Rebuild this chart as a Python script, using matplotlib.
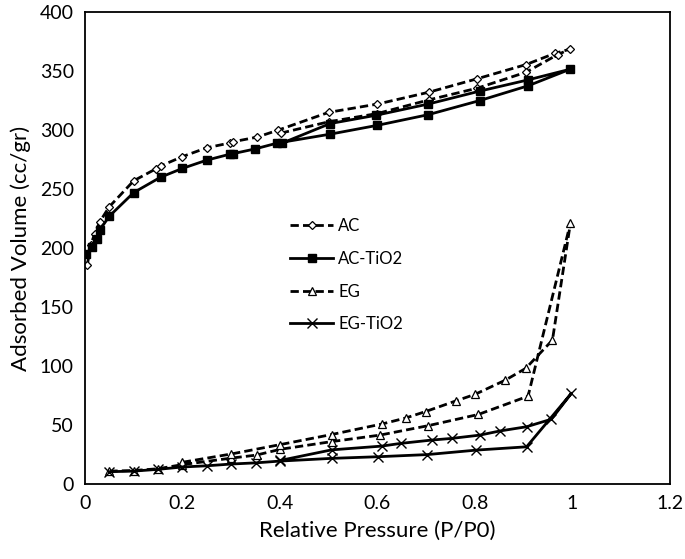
import matplotlib
matplotlib.use("Agg")
import matplotlib.pyplot as plt

# AC: adsorption then desorption
ac_x = [0.005, 0.012, 0.02, 0.03, 0.05, 0.1, 0.145, 0.155, 0.2, 0.25, 0.297, 0.303, 0.353, 0.397,
        0.5, 0.6, 0.705, 0.805, 0.905, 0.964, 0.995,
        0.97, 0.905, 0.805, 0.705, 0.6, 0.5, 0.403]
ac_y = [186, 203, 212, 222, 235, 257, 267, 269.5, 277.5, 285, 289, 290, 294, 300,
        315, 322, 332, 343.5, 355.5, 365, 368.5,
        364, 349, 335.5, 325.5, 314, 307, 297.5]

# AC-TiO2
act_x = [0.003, 0.014, 0.024, 0.03, 0.05, 0.1, 0.155, 0.2, 0.25, 0.297, 0.304, 0.349, 0.395,
         0.503, 0.6, 0.704, 0.81, 0.909, 0.995,
         0.909, 0.81, 0.704, 0.597, 0.503, 0.405]
act_y = [195, 201, 207.5, 215, 227, 247, 260, 267.5, 274.5, 279.5, 280, 284, 289,
         296.5, 304, 313, 325, 337.5, 351.5,
         342.5, 333, 322, 312.5, 305.5, 289]

# EG
eg_x = [0.05, 0.1, 0.15, 0.2, 0.3, 0.352, 0.401, 0.506, 0.605, 0.704, 0.807, 0.909, 0.996,
        0.959, 0.904, 0.862, 0.8, 0.761, 0.699, 0.658, 0.61, 0.506, 0.401, 0.3, 0.2]
eg_y = [11, 11.5, 13, 16.5, 22, 24.6, 29.5, 36, 41.5, 49.5, 59, 74.5, 221.5,
        122, 98, 88, 76, 70.5, 61.5, 56, 51, 42, 33.5, 25.5, 18.5]

# EG-TiO2
egt_x = [0.05, 0.1, 0.15, 0.2, 0.25, 0.3, 0.351, 0.4, 0.506, 0.602, 0.702, 0.803, 0.906, 0.998,
         0.957, 0.906, 0.851, 0.81, 0.752, 0.711, 0.648, 0.609, 0.506, 0.4]
egt_y = [10.5, 11, 12.5, 14.5, 15.5, 17, 18, 19.5, 21.8, 23.2, 25, 28.8, 31.6, 77,
         55, 48.6, 45, 41.5, 38.7, 37.3, 34.5, 32.2, 29, 20]

xticks = [0, 0.2, 0.4, 0.6, 0.8, 1, 1.2]
xtick_labels = ["0", "0.2", "0.4", "0.6", "0.8", "1", "1.2"]
yticks = [0, 50, 100, 150, 200, 250, 300, 350, 400]

plt.rcParams["font.family"] = ["Lato", "DejaVu Sans"]

fig = plt.figure(figsize=(6.85, 5.59), dpi=100)
ax = fig.add_axes([0.124, 0.134, 0.854, 0.8445])

dash = (0, (3.0, 1.5))
ax.plot(ac_x, ac_y, color="black", lw=2, linestyle=dash, marker="D", ms=4,
        mfc="white", mec="black", mew=0.9, label="AC")
ax.plot(act_x, act_y, color="black", lw=2, marker="s", ms=6,
        mfc="black", mec="black", label="AC-TiO2")
ax.plot(eg_x, eg_y, color="black", lw=2, linestyle=dash, marker="^", ms=5.5,
        mfc="white", mec="black", mew=0.9, label="EG")
ax.plot(egt_x, egt_y, color="black", lw=2, marker="x", ms=6.5,
        mec="black", mew=1.0, label="EG-TiO2")

ax.set_xlim(0, 1.2)
ax.set_ylim(0, 400)
ax.set_xticks(xticks)
ax.set_xticklabels(xtick_labels)
ax.set_yticks(yticks)
ax.tick_params(length=0, labelsize=14, pad=8)
for s in ax.spines.values():
    s.set_linewidth(1.3)

ax.set_xlabel("Relative Pressure (P/P0)", fontsize=16, labelpad=6)
ax.set_ylabel("Adsorbed Volume (cc/gr)", fontsize=16, labelpad=6)

ax.legend(loc="upper left", bbox_to_anchor=(0.325, 0.595), frameon=False,
          fontsize=12, handlelength=2.6, labelspacing=1.0, handletextpad=0.3)

fig.savefig("out.png", dpi=100)
